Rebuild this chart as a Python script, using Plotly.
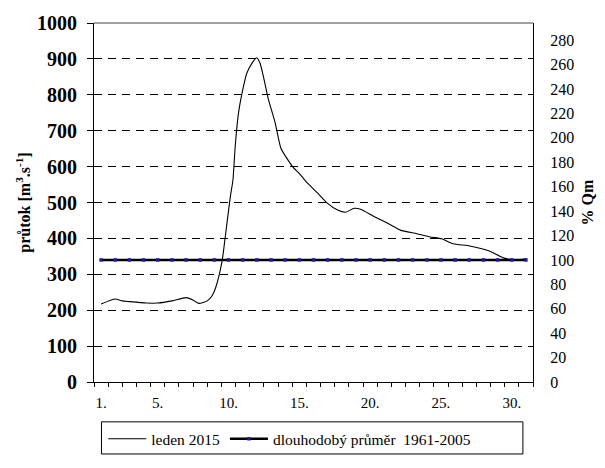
import plotly.graph_objects as go

# leden 2015 (x = day of month)
leden_day = [1.0, 2.0, 2.5, 3.0, 4.2, 5.0, 6.0, 7.0, 7.45, 7.9, 8.5, 8.85, 9.1,
             9.54, 9.78, 10.13, 10.31, 10.48, 10.71, 11.06, 11.29, 11.64, 11.99,
             12.23, 12.46, 12.81, 13.28, 13.69, 14.09, 14.56, 15.02, 15.6, 16.3,
             16.95, 17.7, 18.28, 18.87, 19.33, 20.27, 21.2, 22.13, 23.3, 24.23,
             25.05, 25.86, 27.03, 28.42, 29.47, 30.3, 31.0]
leden_q = [217, 231, 226, 224, 220, 220, 226, 235, 229, 219, 226, 241, 264,
           336, 408, 517, 562, 661, 751, 824, 860, 887, 903,
           887, 851, 788, 724, 652, 625, 598, 580, 553, 526,
           499, 479, 473, 484, 481, 461, 443, 423, 413, 404,
           399, 385, 379, 365, 345, 340, 343]

days = list(range(1, 32))
mean_q = [340] * 31

x_tickvals = [1, 5, 10, 15, 20, 25, 30]
x_ticktext = ["1.", "5.", "10.", "15.", "20.", "25.", "30."]
y_ticks = list(range(0, 1001, 100))
pct_ticks = list(range(0, 281, 20))

serif = "Liberation Serif"

fig = go.Figure()
fig.add_trace(go.Scatter(x=leden_day, y=leden_q, mode="lines", name="leden 2015",
                         line=dict(color="black", width=1.1, shape="spline", smoothing=0.6)))
fig.add_trace(go.Scatter(x=days, y=mean_q, mode="lines+markers",
                         name="dlouhodobý průměr  1961-2005",
                         line=dict(color="black", width=2.6),
                         marker=dict(color="#1a1aa0", size=3.5, symbol="square")))
# invisible trace for the secondary axis
fig.add_trace(go.Scatter(x=[days[0]], y=[0], yaxis="y2", mode="lines",
                         showlegend=False, hoverinfo="skip",
                         line=dict(color="rgba(0,0,0,0)")))

fig.update_layout(
    width=605, height=468,
    margin=dict(l=94, r=67, t=15, b=84),
    paper_bgcolor="white", plot_bgcolor="white",
    font=dict(family=serif, color="black", size=15),
    showlegend=True,
    legend=dict(orientation="h", x=0.021, xanchor="left", y=-0.112, yanchor="top",
                borderwidth=0, font=dict(size=15.5, family=serif),
                itemwidth=38, tracegroupgap=0, bgcolor="rgba(0,0,0,0)"),
    xaxis=dict(range=[0.5, 31.5], tickmode="array", tickvals=x_tickvals,
               ticktext=x_ticktext, ticks="", showline=True, linecolor="black",
               linewidth=1.2, showgrid=False, zeroline=False, ticklabelstandoff=7,
               tickfont=dict(size=15, family=serif),
               minor=dict(tickmode="linear", tick0=0.5, dtick=1, ticks="outside",
                          ticklen=4, tickcolor="black", showgrid=False)),
    yaxis=dict(range=[0, 1000], tickmode="array", tickvals=y_ticks,
               ticks="outside", ticklen=6, tickcolor="black", ticklabelstandoff=6,
               showline=True, linecolor="black", linewidth=1.2,
               showgrid=True, gridcolor="black", gridwidth=1, griddash="8px,6px",
               zeroline=False,
               tickfont=dict(size=20, family=serif, weight="bold"),
               title=dict(text="průtok [m<sup>3</sup>.s<sup>-1</sup>]",
                          font=dict(size=16, family=serif, weight="bold"),
                          standoff=2)),
    yaxis2=dict(overlaying="y", side="right", range=[0, 100000 / mean_q[0]],
                tickmode="array", tickvals=pct_ticks, ticks="", ticklabelstandoff=13,
                showline=True, linecolor="black", linewidth=1.2,
                showgrid=False, zeroline=False,
                tickfont=dict(size=16, family=serif),
                title=dict(text="% Qm", font=dict(size=16, family=serif, weight="bold"),
                           standoff=8)),
)
# gray top frame line of the plot area
fig.add_shape(type="line", xref="paper", yref="paper", x0=0, x1=1, y0=1, y1=1,
              line=dict(color="#808080", width=1.5))
# legend frame
fig.add_shape(type="rect", xref="paper", yref="paper", x0=0.017, x1=0.977,
              y0=-0.2005, y1=-0.111, line=dict(color="black", width=1))

fig.write_html("out.html")
